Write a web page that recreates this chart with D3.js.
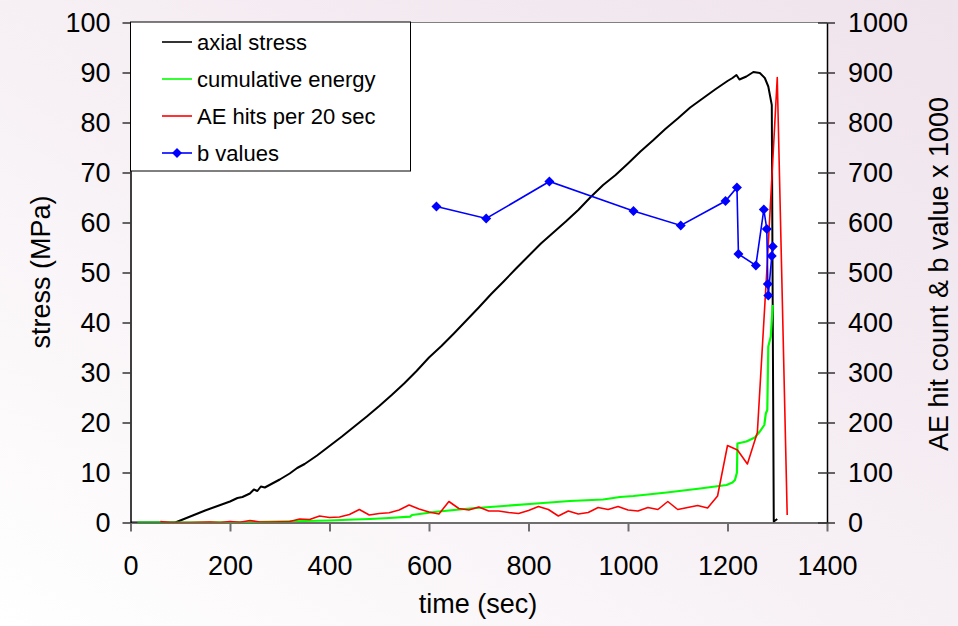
<!DOCTYPE html>
<html>
<head>
<meta charset="utf-8">
<script src="https://cdn.jsdelivr.net/npm/d3@7"></script>
<style>
  html, body { margin: 0; padding: 0; }
  svg { display: block; font-family: "Liberation Sans", Arial, sans-serif; }
</style>
</head>
<body>
<svg id="chart" width="958" height="626"></svg>
<script>
// Axial stress (MPa) against time (sec)
const stressTime  = [0, 90, 100, 125, 150, 175, 200, 215, 225, 240, 248, 255, 262, 270, 285, 300, 320, 335, 350, 375, 400, 425, 450, 475, 500, 525, 550, 575, 600, 625, 650, 675, 700, 725, 750, 775, 800, 825, 850, 875, 900, 925, 950, 975, 1000, 1025, 1050, 1075, 1100, 1125, 1150, 1175, 1200, 1210, 1218, 1224, 1238, 1252, 1265, 1275, 1282, 1289, 1291, 1293, 1300];
const stressValue = [0, 0, 0.4, 1.4, 2.4, 3.3, 4.2, 4.9, 5.1, 5.8, 6.6, 6.3, 7.2, 7.0, 7.8, 8.6, 9.8, 10.9, 11.7, 13.4, 15.3, 17.2, 19.2, 21.2, 23.3, 25.5, 27.8, 30.3, 33.0, 35.3, 37.8, 40.4, 43.0, 45.7, 48.2, 50.8, 53.3, 55.8, 58.0, 60.2, 62.5, 65.1, 67.5, 69.5, 71.8, 74.2, 76.4, 78.7, 80.8, 83.0, 84.8, 86.6, 88.3, 88.9, 89.5, 88.6, 89.2, 90.1, 89.9, 88.9, 87.2, 83.5, 40.0, 0.2, 0.7];

// Cumulative energy (right axis)
const energyTime  = [14, 100, 200, 250, 300, 350, 400, 450, 482, 520, 562, 566, 615, 682, 750, 816, 883, 950, 984, 1011, 1078, 1145, 1198, 1210, 1215, 1219, 1220, 1238, 1255, 1265, 1274, 1277, 1280, 1282, 1287, 1291];
const energyValue = [0, 0, 0.5, 1, 2, 3, 4, 6, 7, 9, 11.6, 15, 21.5, 28, 33, 38, 43, 46, 51, 53, 60, 68, 75, 80, 85, 100, 158, 162, 170, 182, 195, 218, 225, 352, 372, 435];

// AE hits per 20 sec (right axis)
const hitsTime  = [60, 80, 100, 120, 140, 160, 180, 200, 220, 240, 260, 280, 300, 320, 340, 360, 380, 400, 420, 440, 460, 480, 500, 520, 540, 560, 580, 600, 620, 640, 660, 680, 700, 720, 740, 760, 780, 800, 820, 840, 860, 880, 900, 920, 940, 960, 980, 1000, 1020, 1040, 1060, 1080, 1100, 1120, 1140, 1160, 1180, 1200, 1220, 1240, 1260, 1280, 1300, 1320];
const hitsValue = [2, 0, 0, 0, 0.5, 1, 0, 2, 0.5, 4, 1, 1, 1.5, 2, 7, 6, 13, 10, 11, 16, 26, 15, 18, 19.5, 25, 35, 27, 21, 17, 42, 28, 25, 31, 23, 23, 20, 18, 24, 32, 26, 13, 23, 17, 20, 30, 26, 32, 25, 23, 30, 26, 42, 26, 30, 34, 29, 53, 154, 145, 117, 180, 520, 890, 15];

// b values x 1000 (right axis)
const bTime  = [615, 715, 842, 1011, 1106, 1196, 1219, 1222, 1257, 1273, 1279, 1281, 1282, 1289, 1291];
const bValue = [632, 608, 682, 623, 594, 643, 670, 537, 514, 626, 587, 477, 454, 533, 552];

const timeTicks   = [0, 200, 400, 600, 800, 1000, 1200, 1400];
const stressTicks = [0, 10, 20, 30, 40, 50, 60, 70, 80, 90, 100];
const rightTicks  = [0, 100, 200, 300, 400, 500, 600, 700, 800, 900, 1000];

const legendItems = [
  { label: "axial stress", color: "#000000", marker: false },
  { label: "cumulative energy", color: "#00ff00", marker: false },
  { label: "AE hits per 20 sec", color: "#ff0000", marker: false },
  { label: "b values", color: "#0000ff", marker: true }
];

const W = 958, H = 626;
const plot = { left: 130.5, right: 827, top: 22.5, bottom: 522.5 };

const svg = d3.select("#chart");

// page background
const defs = svg.append("defs");
const grad = defs.append("linearGradient").attr("id", "bg")
  .attr("x1", "100%").attr("y1", "0%").attr("x2", "0%").attr("y2", "100%");
grad.append("stop").attr("offset", "0%").attr("stop-color", "#efe3ec");
grad.append("stop").attr("offset", "55%").attr("stop-color", "#f7f1f5");
grad.append("stop").attr("offset", "100%").attr("stop-color", "#ffffff");
svg.append("rect").attr("width", W).attr("height", H).attr("fill", "url(#bg)");

defs.append("clipPath").attr("id", "clip").append("rect")
  .attr("x", plot.left).attr("y", plot.top - 2)
  .attr("width", plot.right - plot.left).attr("height", plot.bottom - plot.top + 2);

const x  = d3.scaleLinear().domain([0, 1400]).range([plot.left, plot.right]);
const yL = d3.scaleLinear().domain([0, 100]).range([plot.bottom, plot.top]);
const yR = d3.scaleLinear().domain([0, 1000]).range([plot.bottom, plot.top]);
const fmt = d3.format("d");

// plot area
svg.append("rect")
  .attr("x", plot.left).attr("y", plot.top)
  .attr("width", plot.right - plot.left).attr("height", plot.bottom - plot.top)
  .attr("fill", "#ffffff");
svg.append("line")
  .attr("x1", plot.left).attr("x2", plot.right)
  .attr("y1", plot.top).attr("y2", plot.top)
  .attr("stroke", "#808080").attr("stroke-width", 1);

const tickFont = 27;

// bottom axis
const gx = svg.append("g").attr("transform", `translate(0,${plot.bottom})`)
  .call(d3.axisBottom(x).tickValues(timeTicks).tickFormat(fmt).tickSize(9).tickSizeOuter(0).tickPadding(24));
gx.select(".domain").attr("stroke", "#6e6e6e").attr("stroke-width", 2);
gx.selectAll(".tick line").attr("stroke", "#6e6e6e").attr("stroke-width", 2);
gx.selectAll(".tick text").attr("font-size", tickFont).attr("fill", "#000")
  .attr("font-family", "Liberation Sans, Arial, sans-serif");

// left axis
const gl = svg.append("g").attr("transform", `translate(${plot.left},0)`)
  .call(d3.axisLeft(yL).tickValues(stressTicks).tickFormat(fmt).tickSize(8).tickSizeOuter(0).tickPadding(12));
gl.select(".domain").attr("stroke", "#000").attr("stroke-width", 1.5);
gl.selectAll(".tick line").attr("stroke", "#333").attr("stroke-width", 1.5);
gl.selectAll(".tick text").attr("font-size", tickFont).attr("fill", "#000")
  .attr("font-family", "Liberation Sans, Arial, sans-serif");

// right axis
const gr = svg.append("g").attr("transform", `translate(${plot.right},0)`)
  .call(d3.axisRight(yR).tickValues(rightTicks).tickFormat(fmt).tickSize(8).tickSizeOuter(0).tickPadding(13));
gr.select(".domain").attr("stroke", "#000").attr("stroke-width", 1.5);
gr.selectAll(".tick line").attr("x1", -9).attr("stroke", "#333").attr("stroke-width", 1.5);
gr.selectAll(".tick text").attr("font-size", tickFont).attr("fill", "#000")
  .attr("font-family", "Liberation Sans, Arial, sans-serif");

// axis titles
svg.append("text").attr("x", 478).attr("y", 613).attr("text-anchor", "middle")
  .attr("font-size", 27).text("time (sec)");
svg.append("text").attr("transform", `translate(50,272) rotate(-90)`)
  .attr("text-anchor", "middle").attr("font-size", 27).text("stress (MPa)");
svg.append("text").attr("transform", `translate(948,274) rotate(-90)`)
  .attr("text-anchor", "middle").attr("font-size", 27).text("AE hit count & b value x 1000");

// series
const series = svg.append("g").attr("clip-path", "url(#clip)");

const stressLine = d3.line().x((d, i) => x(stressTime[i])).y(d => yL(d));
const energyLine = d3.line().x((d, i) => x(energyTime[i])).y(d => yR(d));
const hitsLine   = d3.line().x((d, i) => x(hitsTime[i])).y(d => yR(d));
const bLine      = d3.line().x((d, i) => x(bTime[i])).y(d => yR(d));

series.append("path").attr("d", stressLine(stressValue))
  .attr("fill", "none").attr("stroke", "#000").attr("stroke-width", 2).attr("stroke-linejoin", "round");
series.append("path").attr("d", energyLine(energyValue))
  .attr("fill", "none").attr("stroke", "#00ff00").attr("stroke-width", 2.2).attr("stroke-linejoin", "round");
series.append("path").attr("d", hitsLine(hitsValue))
  .attr("fill", "none").attr("stroke", "#ff0000").attr("stroke-width", 1.6).attr("stroke-linejoin", "round");
series.append("path").attr("d", bLine(bValue))
  .attr("fill", "none").attr("stroke", "#0000ff").attr("stroke-width", 1.6);

const diamond = r => `M0,${-r}L${r},0L0,${r}L${-r},0Z`;
series.selectAll("path.bmark").data(bValue).join("path")
  .attr("class", "bmark")
  .attr("d", diamond(5))
  .attr("transform", (d, i) => `translate(${x(bTime[i])},${yR(d)})`)
  .attr("fill", "#0000ff");

// legend
const legend = svg.append("g");
legend.append("rect")
  .attr("x", plot.left).attr("y", plot.top - 0.5)
  .attr("width", 280).attr("height", 149)
  .attr("fill", "#ffffff").attr("stroke", "#000").attr("stroke-width", 1);
const rowY = [42, 79, 116, 153];
legendItems.forEach((it, i) => {
  const g = legend.append("g").attr("transform", `translate(0,${rowY[i]})`);
  g.append("line").attr("x1", 162).attr("x2", 192).attr("y1", 0).attr("y2", 0)
    .attr("stroke", it.color).attr("stroke-width", 1.6);
  if (it.marker) {
    g.append("path").attr("d", diamond(5)).attr("transform", "translate(177,0)").attr("fill", it.color);
  }
  g.append("text").attr("x", 197).attr("y", 8).attr("font-size", 22).attr("fill", "#000").text(it.label);
});
</script>
</body>
</html>
